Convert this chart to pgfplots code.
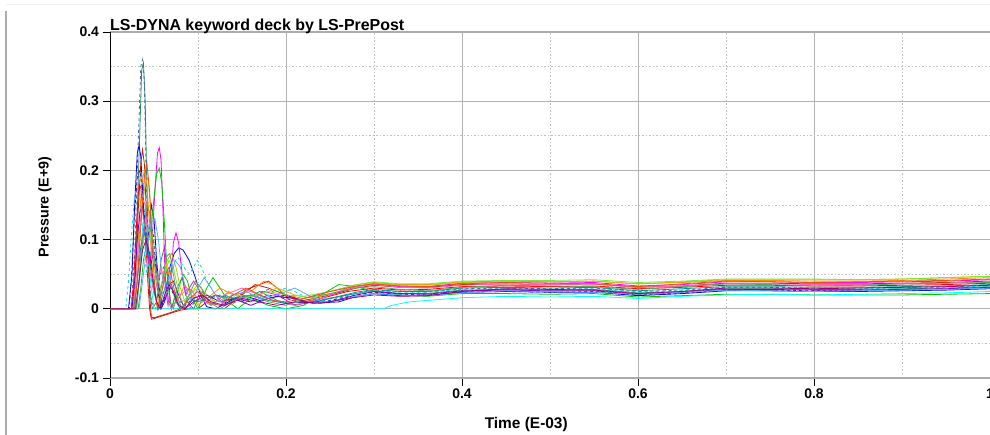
\documentclass[border=0pt]{standalone}
\usepackage{pgfplots}
\pgfplotsset{compat=1.18}
\usepackage{fontspec}
\setmainfont{Liberation Sans}
\definecolor{cDG}{RGB}{46,139,87}
\definecolor{cSB}{RGB}{70,110,160}
\definecolor{cBL}{RGB}{0,0,255}
\definecolor{cRD}{RGB}{255,0,0}
\definecolor{cBR}{RGB}{170,40,20}
\definecolor{cMG}{RGB}{255,0,255}
\definecolor{cGR}{RGB}{0,200,0}
\definecolor{cCY}{RGB}{0,220,230}
\definecolor{cCY2}{RGB}{0,255,255}
\definecolor{cOR}{RGB}{255,140,0}
\definecolor{cOL}{RGB}{190,190,0}
\definecolor{cPU}{RGB}{128,0,200}
\definecolor{cLI}{RGB}{120,230,60}
\definecolor{cPK}{RGB}{255,100,180}
\definecolor{cNV}{RGB}{40,40,160}
\definecolor{cTE}{RGB}{0,150,150}
\definecolor{cMGR}{RGB}{100,160,100}
\definecolor{cSK}{RGB}{90,170,255}
\definecolor{cDO}{RGB}{230,80,30}
\definecolor{cDM}{RGB}{160,0,120}
\begin{document}
\begin{tikzpicture}
\useasboundingbox (0bp,0bp) rectangle (990bp,435bp);
\clip (0bp,0bp) rectangle (990bp,435bp);
\draw[gray!65, line width=1.4bp] (6bp,0bp) -- (6bp,424bp);
\draw[gray!12, line width=1bp] (6bp,430bp) -- (990bp,430bp);
\begin{axis}[
  at={(110bp,57bp)}, anchor=south west,
  scale only axis, width=880bp, height=346bp,
  xmin=0, xmax=1, ymin=-0.1, ymax=0.4,
  xtick={0,0.2,0.4,0.6,0.8,1},
  ytick={-0.1,0,0.1,0.2,0.3,0.4},
  minor x tick num=1, minor y tick num=1,
  grid=both,
  major grid style={gray!60, solid, line width=0.8bp},
  minor grid style={gray!50, dash pattern=on 1.5bp off 2bp, line width=0.8bp},
  separate axis lines,
  x axis line style={gray!65, line width=1.3bp},
  y axis line style={black, line width=1bp},
  tick align=outside, xtick pos=bottom, ytick pos=left,
  major tick length=7.5bp, minor tick length=0bp,
  tick style={black, line width=0.8bp},
  /pgf/number format/assume math mode=true,
  ticklabel style={font=\bfseries\fontsize{14}{16}\selectfont},
  title={LS-DYNA keyword deck by LS-PrePost},
  title style={font=\bfseries\fontsize{16}{18}\selectfont, at={(rel axis cs:0,1.0)}, anchor=west, inner sep=0pt},
  xlabel={Time (E-03)},
  xlabel style={font=\bfseries\fontsize{15.5}{17}\selectfont, at={(rel axis cs:0.473,-0.133)}, anchor=center},
  ylabel={Pressure (E+9)},
  ylabel style={font=\bfseries\fontsize{14.3}{16}\selectfont, at={(rel axis cs:-0.074,0.494)}, anchor=center},
  every axis plot/.append style={line width=0.8bp},
]
% S1 dark green solid
\addplot[cDG] coordinates {(0,0) (0.025,0) (0.029,0.06) (0.033,0.22) (0.036,0.345) (0.038,0.355) (0.040,0.30) (0.042,0.17) (0.045,0.03) (0.048,0) (0.053,0.01) (0.058,0.07) (0.062,0.09) (0.066,0.04) (0.07,0.0) (0.076,0.03) (0.082,0.045) (0.088,0.01) (0.095,0.0) (0.105,0.025) (0.115,0.005) (0.13,0.02) (0.15,0.01) (0.17,0.025) (0.19,0.012) (0.21,0.006) (0.24,0.012) (0.27,0.02) (0.30,0.026) (0.33,0.022) (0.36,0.022) (0.40,0.027) (0.45,0.028) (0.50,0.027) (0.55,0.028) (0.60,0.023) (0.65,0.025) (0.70,0.029) (0.75,0.029) (0.80,0.028) (0.85,0.028) (0.90,0.029) (0.95,0.030) (1.00,0.032)};
% S2 steel blue dashed
\addplot[cSB, dashed] coordinates {(0,0) (0.024,0) (0.028,0.08) (0.032,0.24) (0.035,0.35) (0.037,0.36) (0.039,0.33) (0.041,0.2) (0.044,0.06) (0.047,0.01) (0.052,0) (0.057,0.05) (0.061,0.06) (0.065,0.02) (0.07,0) (0.075,0.02) (0.08,0.01) (0.09,0.0) (0.1,0.015) (0.11,0.01) (0.125,0.02) (0.14,0.008) (0.16,0.02) (0.18,0.028) (0.2,0.015) (0.22,0.01) (0.25,0.015) (0.28,0.022) (0.30,0.027) (0.33,0.025) (0.36,0.024) (0.40,0.029) (0.45,0.030) (0.50,0.029) (0.55,0.030) (0.60,0.025) (0.65,0.027) (0.70,0.031) (0.75,0.031) (0.80,0.030) (0.85,0.030) (0.90,0.031) (0.95,0.032) (1.00,0.034)};
% S3 blue
\addplot[cBL] coordinates {(0,0) (0.021,0) (0.025,0.05) (0.028,0.15) (0.031,0.225) (0.033,0.236) (0.035,0.22) (0.038,0.15) (0.041,0.09) (0.044,0.11) (0.047,0.15) (0.050,0.13) (0.053,0.07) (0.056,0.03) (0.059,0.005) (0.063,0.02) (0.068,0.06) (0.073,0.08) (0.078,0.088) (0.083,0.085) (0.09,0.07) (0.097,0.045) (0.103,0.02) (0.11,0.003) (0.12,0.0) (0.135,0.01) (0.15,0.02) (0.17,0.012) (0.19,0.018) (0.21,0.015) (0.23,0.008) (0.26,0.01) (0.28,0.018) (0.30,0.022) (0.33,0.019) (0.36,0.019) (0.40,0.024) (0.45,0.025) (0.50,0.024) (0.55,0.024) (0.60,0.019) (0.65,0.022) (0.70,0.026) (0.75,0.026) (0.80,0.025) (0.85,0.025) (0.90,0.026) (0.95,0.027) (1.00,0.029)};
% S4 red
\addplot[cRD] coordinates {(0,0) (0.024,0) (0.027,0.04) (0.030,0.12) (0.033,0.18) (0.035,0.175) (0.038,0.13) (0.041,0.09) (0.043,0.04) (0.045,0.0) (0.047,-0.015) (0.050,-0.014) (0.06,-0.010) (0.07,-0.006) (0.08,-0.002) (0.09,0) (0.13,0) (0.14,0.01) (0.155,0.028) (0.17,0.035) (0.18,0.04) (0.19,0.03) (0.20,0.018) (0.22,0.01) (0.24,0.015) (0.27,0.025) (0.30,0.030) (0.33,0.027) (0.36,0.028) (0.40,0.032) (0.45,0.033) (0.50,0.032) (0.55,0.033) (0.60,0.029) (0.65,0.031) (0.70,0.034) (0.75,0.034) (0.80,0.033) (0.85,0.033) (0.90,0.034) (0.95,0.035) (1.00,0.037)};
% S5 brown
\addplot[cBR] coordinates {(0,0) (0.026,0) (0.029,0.05) (0.032,0.14) (0.035,0.21) (0.037,0.23) (0.039,0.21) (0.041,0.15) (0.043,0.08) (0.045,0.02) (0.047,-0.012) (0.050,-0.013) (0.06,-0.009) (0.07,-0.005) (0.08,0) (0.1,0) (0.11,0.01) (0.12,0.02) (0.135,0.012) (0.15,0.02) (0.165,0.035) (0.18,0.03) (0.2,0.02) (0.22,0.012) (0.25,0.02) (0.28,0.03) (0.30,0.034) (0.33,0.031) (0.36,0.031) (0.40,0.035) (0.45,0.036) (0.50,0.035) (0.55,0.036) (0.60,0.031) (0.65,0.033) (0.70,0.037) (0.75,0.037) (0.80,0.036) (0.85,0.036) (0.90,0.037) (0.95,0.038) (1.00,0.040)};
% S6 magenta
\addplot[cMG] coordinates {(0,0) (0.030,0) (0.033,0.04) (0.036,0.10) (0.039,0.12) (0.042,0.08) (0.045,0.06) (0.048,0.10) (0.051,0.17) (0.054,0.225) (0.056,0.233) (0.058,0.215) (0.060,0.15) (0.062,0.07) (0.064,0.02) (0.066,0.005) (0.069,0.04) (0.072,0.095) (0.075,0.11) (0.078,0.095) (0.082,0.05) (0.086,0.02) (0.09,0.03) (0.095,0.04) (0.10,0.03) (0.11,0.01) (0.12,0.02) (0.13,0.005) (0.145,0.015) (0.16,0.01) (0.175,0.025) (0.19,0.02) (0.21,0.005) (0.23,0.01) (0.25,0.02) (0.28,0.032) (0.30,0.036) (0.33,0.032) (0.36,0.032) (0.40,0.037) (0.45,0.038) (0.50,0.037) (0.55,0.038) (0.60,0.033) (0.65,0.035) (0.70,0.039) (0.75,0.039) (0.80,0.038) (0.85,0.038) (0.90,0.039) (0.95,0.040) (1.00,0.042)};
% S7 green
\addplot[cGR] coordinates {(0,0) (0.032,0) (0.035,0.03) (0.038,0.07) (0.041,0.09) (0.044,0.10) (0.047,0.12) (0.050,0.16) (0.053,0.195) (0.056,0.203) (0.059,0.18) (0.062,0.12) (0.065,0.05) (0.068,0.01) (0.072,0.0) (0.078,0.03) (0.083,0.05) (0.088,0.04) (0.093,0.015) (0.1,0.0) (0.11,0.03) (0.117,0.045) (0.125,0.03) (0.135,0.01) (0.145,0.0) (0.16,0.015) (0.18,0.005) (0.20,0.0) (0.22,0.005) (0.24,0.02) (0.26,0.035) (0.28,0.032) (0.30,0.025) (0.33,0.02) (0.36,0.018) (0.40,0.022) (0.45,0.022) (0.50,0.021) (0.55,0.022) (0.60,0.017) (0.65,0.019) (0.70,0.021) (0.75,0.021) (0.80,0.020) (0.85,0.020) (0.90,0.020) (0.95,0.021) (1.00,0.022)};
% S8 cyan dashed
\addplot[cCY, dashed] coordinates {(0,0) (0.018,0) (0.021,0.04) (0.024,0.10) (0.027,0.15) (0.030,0.175) (0.033,0.17) (0.036,0.13) (0.039,0.08) (0.042,0.05) (0.045,0.07) (0.048,0.10) (0.051,0.09) (0.054,0.05) (0.058,0.02) (0.063,0.03) (0.07,0.06) (0.077,0.075) (0.084,0.06) (0.09,0.05) (0.095,0.06) (0.099,0.07) (0.104,0.06) (0.11,0.04) (0.12,0.02) (0.13,0.01) (0.145,0.02) (0.16,0.015) (0.18,0.02) (0.2,0.03) (0.21,0.025) (0.23,0.012) (0.25,0.012) (0.28,0.022) (0.30,0.026) (0.33,0.024) (0.36,0.024) (0.40,0.028) (0.45,0.029) (0.50,0.028) (0.55,0.029) (0.60,0.024) (0.65,0.026) (0.70,0.030) (0.75,0.030) (0.80,0.029) (0.85,0.029) (0.90,0.030) (0.95,0.031) (1.00,0.033)};
% S9 cyan solid
\addplot[cCY2] coordinates {(0,0) (0.03,0) (0.034,0.05) (0.037,0.12) (0.040,0.14) (0.043,0.10) (0.046,0.04) (0.05,0.0) (0.31,0) (0.32,0.005) (0.34,0.01) (0.36,0.012) (0.40,0.016) (0.45,0.018) (0.50,0.017) (0.55,0.018) (0.60,0.015) (0.65,0.018) (0.70,0.02) (0.75,0.021) (0.80,0.02) (0.85,0.021) (0.90,0.022) (0.95,0.023) (1.00,0.025)};
% S10 orange
\addplot[cOR] coordinates {(0,0) (0.027,0) (0.030,0.05) (0.033,0.12) (0.036,0.18) (0.039,0.20) (0.042,0.18) (0.045,0.12) (0.048,0.06) (0.051,0.02) (0.054,0.0) (0.058,0.03) (0.062,0.06) (0.066,0.055) (0.07,0.03) (0.075,0.01) (0.08,0.02) (0.085,0.035) (0.09,0.025) (0.1,0.005) (0.11,0.015) (0.125,0.03) (0.14,0.02) (0.16,0.025) (0.175,0.04) (0.185,0.035) (0.2,0.02) (0.22,0.015) (0.25,0.025) (0.28,0.035) (0.30,0.038) (0.33,0.035) (0.36,0.035) (0.40,0.039) (0.45,0.040) (0.50,0.039) (0.55,0.040) (0.60,0.036) (0.65,0.038) (0.70,0.041) (0.75,0.041) (0.80,0.040) (0.85,0.040) (0.90,0.041) (0.95,0.043) (1.00,0.045)};
% S11 olive
\addplot[cOL] coordinates {(0,0) (0.028,0) (0.032,0.06) (0.036,0.14) (0.040,0.18) (0.043,0.19) (0.046,0.15) (0.049,0.09) (0.052,0.04) (0.056,0.01) (0.06,0.03) (0.065,0.07) (0.07,0.08) (0.075,0.06) (0.08,0.03) (0.085,0.01) (0.09,0.02) (0.1,0.035) (0.11,0.02) (0.12,0.01) (0.135,0.025) (0.15,0.015) (0.17,0.02) (0.19,0.03) (0.21,0.02) (0.23,0.015) (0.26,0.025) (0.28,0.033) (0.30,0.037) (0.33,0.034) (0.36,0.034) (0.40,0.038) (0.45,0.039) (0.50,0.039) (0.55,0.040) (0.60,0.036) (0.65,0.039) (0.70,0.042) (0.75,0.042) (0.80,0.042) (0.85,0.042) (0.90,0.043) (0.95,0.045) (1.00,0.047)};
% S12 purple
\addplot[cPU] coordinates {(0,0) (0.025,0) (0.028,0.04) (0.031,0.10) (0.034,0.14) (0.037,0.15) (0.040,0.12) (0.043,0.08) (0.046,0.06) (0.049,0.08) (0.052,0.07) (0.055,0.03) (0.058,0.0) (0.062,0.01) (0.067,0.035) (0.072,0.04) (0.078,0.02) (0.085,0.0) (0.095,0.01) (0.11,0.02) (0.125,0.01) (0.14,0.015) (0.16,0.005) (0.18,0.015) (0.2,0.02) (0.22,0.01) (0.25,0.01) (0.28,0.02) (0.30,0.025) (0.33,0.022) (0.36,0.021) (0.40,0.026) (0.45,0.027) (0.50,0.026) (0.55,0.026) (0.60,0.021) (0.65,0.024) (0.70,0.028) (0.75,0.028) (0.80,0.027) (0.85,0.027) (0.90,0.028) (0.95,0.029) (1.00,0.031)};
% S13 lime
\addplot[cLI] coordinates {(0,0) (0.029,0) (0.033,0.04) (0.037,0.09) (0.041,0.12) (0.045,0.11) (0.049,0.08) (0.053,0.05) (0.057,0.03) (0.062,0.05) (0.067,0.07) (0.072,0.06) (0.077,0.03) (0.082,0.01) (0.09,0.02) (0.1,0.03) (0.11,0.015) (0.12,0.01) (0.14,0.02) (0.16,0.018) (0.18,0.025) (0.2,0.02) (0.22,0.018) (0.25,0.025) (0.28,0.035) (0.30,0.039) (0.33,0.036) (0.36,0.036) (0.40,0.040) (0.45,0.041) (0.50,0.041) (0.55,0.042) (0.60,0.038) (0.65,0.040) (0.70,0.043) (0.75,0.043) (0.80,0.043) (0.85,0.042) (0.90,0.043) (0.95,0.045) (1.00,0.047)};
% S14 pink
\addplot[cPK] coordinates {(0,0) (0.026,0) (0.03,0.05) (0.034,0.12) (0.037,0.16) (0.040,0.15) (0.043,0.10) (0.046,0.05) (0.05,0.02) (0.054,0.04) (0.058,0.06) (0.062,0.04) (0.066,0.01) (0.07,0.0) (0.08,0.02) (0.09,0.03) (0.1,0.015) (0.115,0.005) (0.13,0.02) (0.15,0.03) (0.17,0.02) (0.19,0.01) (0.21,0.005) (0.24,0.015) (0.27,0.03) (0.30,0.035) (0.33,0.031) (0.36,0.03) (0.40,0.034) (0.45,0.036) (0.50,0.035) (0.55,0.036) (0.60,0.031) (0.65,0.033) (0.70,0.036) (0.75,0.036) (0.80,0.035) (0.85,0.035) (0.90,0.036) (0.95,0.037) (1.00,0.039)};
% S15 navy dashed
\addplot[cNV, dashed] coordinates {(0,0) (0.022,0) (0.025,0.06) (0.028,0.14) (0.031,0.19) (0.034,0.20) (0.037,0.17) (0.040,0.12) (0.043,0.10) (0.046,0.12) (0.049,0.11) (0.052,0.06) (0.055,0.02) (0.058,0.0) (0.063,0.015) (0.068,0.03) (0.073,0.02) (0.08,0.0) (0.09,0.01) (0.1,0.02) (0.11,0.01) (0.125,0.005) (0.14,0.015) (0.16,0.01) (0.18,0.02) (0.2,0.015) (0.22,0.008) (0.25,0.012) (0.28,0.02) (0.30,0.024) (0.33,0.021) (0.36,0.02) (0.40,0.024) (0.45,0.025) (0.50,0.024) (0.55,0.025) (0.60,0.02) (0.65,0.023) (0.70,0.027) (0.75,0.027) (0.80,0.026) (0.85,0.026) (0.90,0.027) (0.95,0.028) (1.00,0.030)};
% S16 teal
\addplot[cTE] coordinates {(0,0) (0.027,0) (0.031,0.04) (0.035,0.09) (0.039,0.11) (0.043,0.09) (0.047,0.05) (0.051,0.02) (0.055,0.0) (0.06,0.02) (0.065,0.04) (0.07,0.035) (0.075,0.01) (0.08,0.0) (0.09,0.015) (0.1,0.01) (0.12,0.02) (0.14,0.015) (0.16,0.02) (0.18,0.012) (0.2,0.008) (0.23,0.01) (0.26,0.018) (0.28,0.024) (0.30,0.028) (0.33,0.025) (0.36,0.025) (0.40,0.030) (0.45,0.031) (0.50,0.030) (0.55,0.031) (0.60,0.026) (0.65,0.029) (0.70,0.032) (0.75,0.032) (0.80,0.031) (0.85,0.031) (0.90,0.032) (0.95,0.033) (1.00,0.035)};
% S17 medium green
\addplot[cMGR] coordinates {(0,0) (0.03,0) (0.034,0.05) (0.038,0.11) (0.042,0.15) (0.045,0.14) (0.048,0.10) (0.052,0.05) (0.056,0.02) (0.06,0.04) (0.064,0.075) (0.068,0.08) (0.072,0.05) (0.077,0.015) (0.082,0.0) (0.09,0.02) (0.097,0.04) (0.104,0.03) (0.112,0.01) (0.125,0.0) (0.14,0.012) (0.16,0.02) (0.18,0.01) (0.2,0.005) (0.22,0.015) (0.25,0.022) (0.28,0.03) (0.30,0.032) (0.33,0.028) (0.36,0.026) (0.40,0.031) (0.45,0.034) (0.50,0.033) (0.55,0.032) (0.60,0.028) (0.65,0.032) (0.70,0.036) (0.75,0.035) (0.80,0.033) (0.85,0.034) (0.90,0.036) (0.95,0.037) (1.00,0.038)};
% S18 sky blue
\addplot[cSK] coordinates {(0,0) (0.033,0) (0.037,0.04) (0.042,0.09) (0.047,0.125) (0.051,0.13) (0.055,0.1) (0.059,0.05) (0.063,0.02) (0.068,0.04) (0.074,0.07) (0.08,0.06) (0.086,0.03) (0.092,0.01) (0.1,0.03) (0.107,0.045) (0.115,0.03) (0.125,0.01) (0.14,0.02) (0.155,0.025) (0.17,0.015) (0.19,0.02) (0.21,0.03) (0.225,0.02) (0.24,0.01) (0.26,0.012) (0.28,0.018) (0.30,0.022) (0.33,0.02) (0.36,0.019) (0.40,0.023) (0.45,0.026) (0.50,0.025) (0.55,0.024) (0.60,0.021) (0.65,0.024) (0.70,0.027) (0.75,0.026) (0.80,0.025) (0.85,0.026) (0.90,0.027) (0.95,0.028) (1.00,0.030)};
% S19 dark orange
\addplot[cDO] coordinates {(0,0) (0.028,0) (0.031,0.04) (0.035,0.12) (0.039,0.19) (0.042,0.21) (0.045,0.17) (0.048,0.09) (0.051,0.03) (0.054,0.0) (0.058,0.02) (0.063,0.05) (0.067,0.06) (0.071,0.04) (0.076,0.01) (0.082,0.0) (0.09,0.015) (0.1,0.025) (0.11,0.01) (0.125,0.005) (0.14,0.02) (0.155,0.03) (0.17,0.02) (0.185,0.012) (0.2,0.01) (0.22,0.015) (0.25,0.025) (0.28,0.033) (0.30,0.036) (0.33,0.033) (0.36,0.032) (0.40,0.036) (0.45,0.038) (0.50,0.037) (0.55,0.036) (0.60,0.032) (0.65,0.036) (0.70,0.040) (0.75,0.039) (0.80,0.038) (0.85,0.039) (0.90,0.040) (0.95,0.041) (1.00,0.043)};
% S20 dark magenta
\addplot[cDM] coordinates {(0,0) (0.029,0) (0.033,0.04) (0.037,0.085) (0.041,0.1) (0.045,0.08) (0.049,0.04) (0.053,0.01) (0.057,0.0) (0.062,0.02) (0.067,0.035) (0.072,0.025) (0.078,0.005) (0.085,0.0) (0.095,0.015) (0.105,0.02) (0.115,0.01) (0.13,0.005) (0.15,0.015) (0.17,0.01) (0.19,0.005) (0.21,0.01) (0.24,0.008) (0.27,0.015) (0.30,0.02) (0.33,0.018) (0.36,0.019) (0.40,0.025) (0.45,0.029) (0.50,0.028) (0.55,0.027) (0.60,0.022) (0.65,0.025) (0.70,0.030) (0.75,0.030) (0.80,0.029) (0.85,0.030) (0.90,0.031) (0.95,0.032) (1.00,0.034)};
\end{axis}
\end{tikzpicture}
\end{document}
